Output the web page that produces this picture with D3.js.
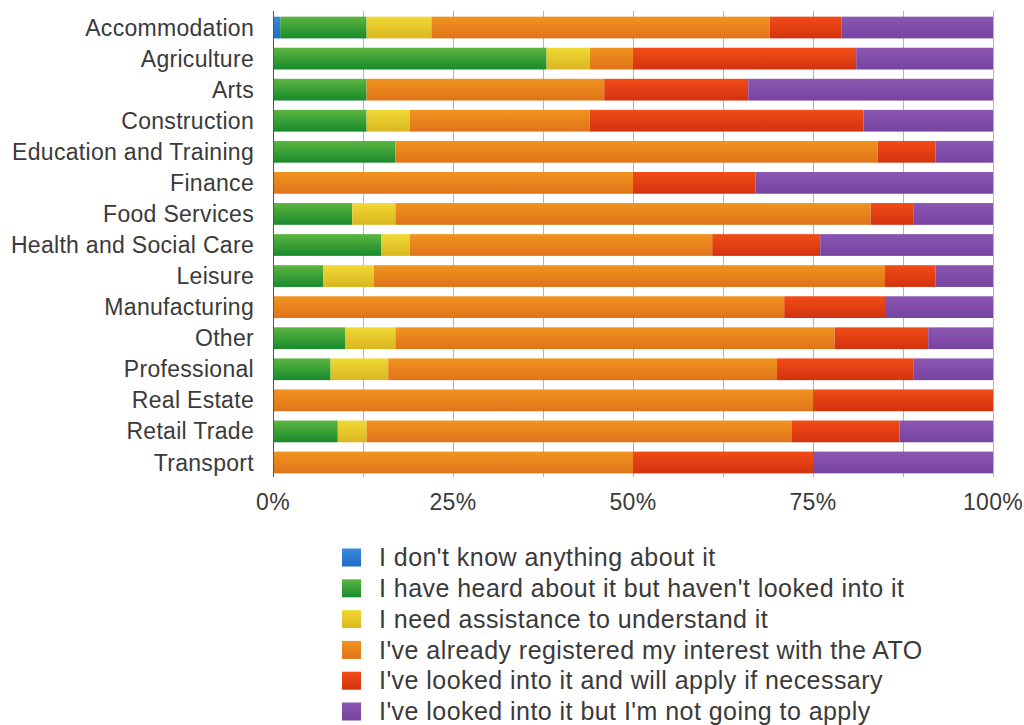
<!DOCTYPE html>
<html>
<head>
<meta charset="utf-8">
<script src="https://cdn.jsdelivr.net/npm/d3@7"></script>
<style>
  html, body { margin: 0; padding: 0; background: #fff; }
  svg { display: block; font-family: "Helvetica Neue", "Liberation Sans", Arial, sans-serif; }
</style>
</head>
<body>
<svg id="chart" width="1024" height="725"></svg>
<script>
// Industries, top to bottom
const categories = [
  "Accommodation", "Agriculture", "Arts", "Construction", "Education and Training",
  "Finance", "Food Services", "Health and Social Care", "Leisure", "Manufacturing",
  "Other", "Professional", "Real Estate", "Retail Trade", "Transport"
];

// Survey responses (percent of each industry)
const seriesNames = [
  "I don't know anything about it",
  "I have heard about it but haven't looked into it",
  "I need assistance to understand it",
  "I've already registered my interest with the ATO",
  "I've looked into it and will apply if necessary",
  "I've looked into it but I'm not going to apply"
];
const dontKnow      = [1,  0,  0,  0,  0,  0,  0,  0,  0,  0,  0,  0,  0,  0,  0];
const heardAbout    = [12, 38, 13, 13, 17, 0,  11, 15, 7,  0,  10, 8,  0,  9,  0];
const needHelp      = [9,  6,  0,  6,  0,  0,  6,  4,  7,  0,  7,  8,  0,  4,  0];
const registered    = [47, 6,  33, 25, 67, 50, 66, 42, 71, 71, 61, 54, 75, 59, 50];
const willApply     = [10, 31, 20, 38, 8,  17, 6,  15, 7,  14, 13, 19, 25, 15, 25];
const notApplying   = [21, 19, 34, 18, 8,  33, 11, 24, 8,  15, 9,  11, 0,  13, 25];

const xTicks = [0, 25, 50, 75, 100];
const gridTicks = [0, 12.5, 25, 37.5, 50, 62.5, 75, 87.5, 100];

// Fill colours: light top / dark bottom of each bar
const colorTop    = ["#3a8ce0", "#5cb540", "#f1d935", "#f0941f", "#f24c17", "#8b57b2"];
const colorBottom = ["#1f6cc4", "#188a2c", "#d9b620", "#e0731a", "#d2320f", "#7643a0"];

const seriesValues = [dontKnow, heardAbout, needHelp, registered, willApply, notApplying];
const keys = seriesNames.map((_, i) => "s" + i);
const rows = categories.map((c, r) => {
  const o = { category: c };
  keys.forEach((k, i) => { o[k] = seriesValues[i][r]; });
  return o;
});
const stacked = d3.stack().keys(keys)(rows);

const svg = d3.select("#chart");

const x = d3.scaleLinear().domain([0, 100]).range([273, 993]);
const y = d3.scaleBand().domain(categories).range([12, 478])
  .paddingInner(0.3).paddingOuter(0.15);

// Gradients
const defs = svg.append("defs");
keys.forEach((k, i) => {
  const g = defs.append("linearGradient").attr("id", "grad-" + k)
    .attr("x1", 0).attr("y1", 0).attr("x2", 0).attr("y2", 1);
  g.append("stop").attr("offset", "0%").attr("stop-color", colorTop[i]);
  g.append("stop").attr("offset", "100%").attr("stop-color", colorBottom[i]);
});

// Vertical gridlines
svg.append("g").selectAll("line").data(gridTicks).join("line")
  .attr("x1", d => x(d) + 0.5).attr("x2", d => x(d) + 0.5)
  .attr("y1", 11).attr("y2", 477)
  .attr("stroke", d => d === 0 ? "#666" : "#b4b4b4")
  .attr("stroke-width", 1);

// Stacked bars
svg.append("g").selectAll("g").data(stacked).join("g")
  .attr("fill", d => "url(#grad-" + d.key + ")")
  .selectAll("rect").data(d => d).join("rect")
  .attr("x", d => x(d[0]))
  .attr("y", d => y(d.data.category))
  .attr("width", d => Math.max(0, x(d[1]) - x(d[0])))
  .attr("height", y.bandwidth());

// Axis line over bars at 0
svg.append("line")
  .attr("x1", x(0) + 0.5).attr("x2", x(0) + 0.5)
  .attr("y1", 11).attr("y2", 477)
  .attr("stroke", "#555").attr("stroke-width", 1);

// Category labels
svg.append("g").selectAll("text").data(categories).join("text")
  .attr("x", 254)
  .attr("y", d => y(d) + y.bandwidth() / 2)
  .attr("dy", "0.35em")
  .attr("text-anchor", "end")
  .attr("font-size", 23)
  .attr("letter-spacing", 0.3)
  .attr("fill", "#3a3a3a")
  .text(d => d);

// X tick labels
svg.append("g").selectAll("text").data(xTicks).join("text")
  .attr("x", d => x(d))
  .attr("y", 510)
  .attr("text-anchor", "middle")
  .attr("font-size", 23)
  .attr("letter-spacing", 0.3)
  .attr("fill", "#3a3a3a")
  .text(d => d + "%");

// Legend
const legend = svg.append("g").selectAll("g").data(seriesNames).join("g")
  .attr("transform", (d, i) => `translate(342, ${557.5 + i * 30.8})`);
legend.append("rect")
  .attr("x", 0).attr("y", -9).attr("width", 19).attr("height", 18)
  .attr("fill", (d, i) => "url(#grad-" + keys[i] + ")");
legend.append("text")
  .attr("x", 37).attr("y", 0).attr("dy", "0.35em")
  .attr("font-size", 25)
  .attr("letter-spacing", 0.45)
  .attr("fill", "#3a3a3a")
  .text(d => d);
</script>
</body>
</html>
